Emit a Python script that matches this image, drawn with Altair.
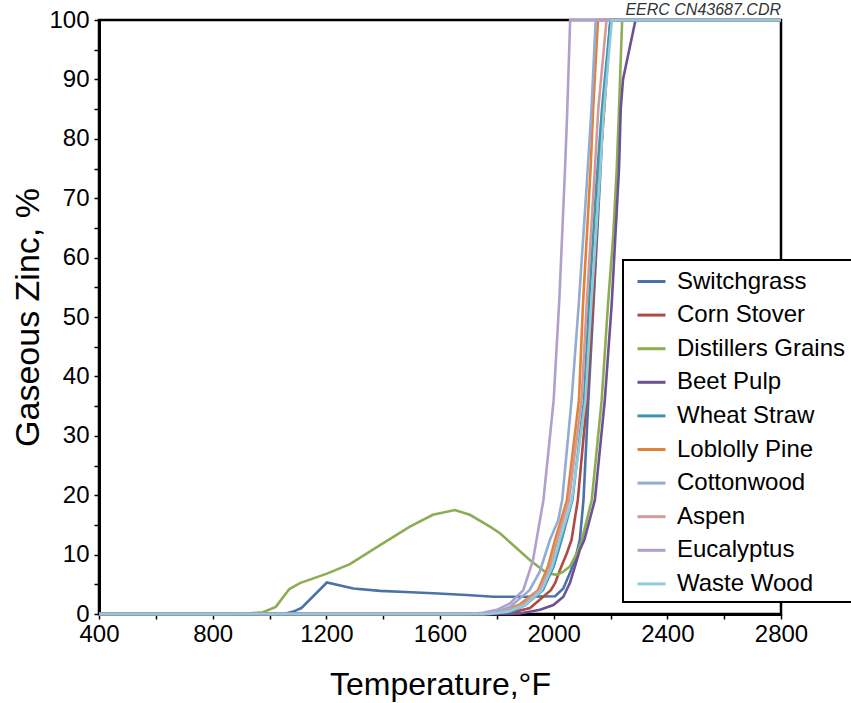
import altair as alt
import pandas as pd

FONT = "Liberation Sans"

SERIES = ["Switchgrass", "Corn Stover", "Distillers Grains", "Beet Pulp", "Wheat Straw",
          "Loblolly Pine", "Cottonwood", "Aspen", "Eucalyptus", "Waste Wood"]
COLORS = ["#4A72A8", "#AE4A45", "#8DAD55", "#6C5193", "#3D95AF",
          "#E08237", "#94ABD3", "#D49A98", "#B1A0CB", "#8FCBDC"]

SWITCHGRASS_T = [400, 1050, 1084, 1112, 1202, 1295, 1389, 1459, 1576, 1694, 1788, 1900, 2005, 2034, 2057, 2075, 2092, 2105, 2122, 2140, 2165, 2175, 2200, 2800]
SWITCHGRASS_Y = [0, 0, 0.4, 1.0, 5.3, 4.3, 3.9, 3.75, 3.5, 3.2, 2.9, 2.9, 3.0, 4.3, 6.9, 9.1, 12.5, 19.2, 36, 52, 75, 85, 100, 100]

CORN_T = [400, 1800, 1850, 1917, 1990, 2005, 2022, 2046, 2063, 2085, 2117, 2138, 2162, 2178, 2200, 2800]
CORN_Y = [0, 0, 0.2, 1.0, 4.0, 5.2, 7.4, 10.2, 12.5, 19.2, 36, 52, 75, 85, 100, 100]

DISTILLERS_T = [400, 850, 932, 977, 1022, 1070, 1107, 1202, 1283, 1389, 1494, 1575, 1652, 1705, 1776, 1811, 1916, 1975, 2010, 2033, 2057, 2081, 2098, 2134, 2169, 2191, 2210, 2222, 2230, 2241, 2800]
DISTILLERS_Y = [0, 0, 0.1, 0.3, 1.2, 4.2, 5.2, 6.8, 8.4, 11.6, 14.7, 16.7, 17.5, 16.7, 14.7, 13.6, 9.1, 6.9, 6.6, 7.1, 8.0, 10.2, 12.2, 19.2, 36, 52, 64, 75, 85, 100, 100]

BEET_T = [400, 1850, 1881, 1952, 1999, 2034, 2057, 2075, 2092, 2108, 2145, 2180, 2204, 2230, 2236, 2244, 2288, 2800]
BEET_Y = [0, 0, 0.1, 0.7, 1.5, 2.9, 5.2, 8.0, 10.8, 12.5, 19.2, 36, 52, 75, 85, 90, 100, 100]

WHEAT_T = [400, 1780, 1850, 1900, 1962, 2000, 2028, 2066, 2107, 2124, 2150, 2170, 2200, 2800]
WHEAT_Y = [0, 0, 0.4, 1.5, 4.0, 8.0, 12.5, 19.2, 36, 52, 72, 85, 100, 100]

LOBLOLLY_T = [400, 1760, 1820, 1880, 1945, 1980, 2005, 2047, 2089, 2103, 2130, 2139, 2156, 2800]
LOBLOLLY_Y = [0, 0, 0.5, 1.6, 4.0, 8.0, 12.5, 19.2, 36, 52, 75, 85, 100, 100]

COTTONWOOD_T = [400, 1750, 1800, 1846, 1915, 1950, 1987, 2016, 2030, 2063, 2088, 2116, 2133, 2148, 2800]
COTTONWOOD_Y = [0, 0, 0.4, 1.2, 4.0, 7.0, 12.5, 15.8, 19.2, 36, 52, 72, 85, 100, 100]

ASPEN_T = [400, 1760, 1830, 1890, 1950, 1985, 2013, 2054, 2098, 2116, 2145, 2157, 2186, 2800]
ASPEN_Y = [0, 0, 0.5, 1.6, 4.0, 7.5, 12.5, 19.2, 36, 52, 75, 85, 100, 100]

EUCALYPTUS_T = [400, 1700, 1750, 1800, 1846, 1893, 1927, 1964, 2000, 2020, 2040, 2048, 2058, 2800]
EUCALYPTUS_Y = [0, 0, 0.2, 0.7, 1.8, 4.0, 9.0, 19.2, 36, 53, 75, 85, 100, 100]

WASTE_T = [400, 1770, 1840, 1900, 1958, 1995, 2022, 2064, 2112, 2132, 2160, 2177, 2205, 2800]
WASTE_Y = [0, 0, 0.4, 1.5, 4.0, 8.0, 12.5, 19.2, 36, 52, 72, 85, 100, 100]

PAIRS = [(SWITCHGRASS_T, SWITCHGRASS_Y), (CORN_T, CORN_Y), (DISTILLERS_T, DISTILLERS_Y),
         (BEET_T, BEET_Y), (WHEAT_T, WHEAT_Y), (LOBLOLLY_T, LOBLOLLY_Y),
         (COTTONWOOD_T, COTTONWOOD_Y), (ASPEN_T, ASPEN_Y), (EUCALYPTUS_T, EUCALYPTUS_Y),
         (WASTE_T, WASTE_Y)]

X_TICKS = list(range(400, 2801, 200))
Y_TICKS = list(range(0, 101, 5))

rows = []
for name, (ts, ys) in zip(SERIES, PAIRS):
    for t, y in zip(ts, ys):
        rows.append({"series": name, "temp": t, "zinc": y})
df = pd.DataFrame(rows)

chart = alt.Chart(df).mark_line(strokeWidth=2.6, clip=False).encode(
    x=alt.X("temp:Q",
            scale=alt.Scale(domain=[400, 2800], nice=False, zero=False),
            axis=alt.Axis(title="Temperature,°F", values=X_TICKS, format="d",
                          labelExpr="datum.value % 400 == 0 ? datum.label : ''",
                          labelFlush=False, labelOverlap=False,
                          labelFontSize=24, titleFontSize=32, titlePadding=23,
                          labelPadding=3, tickSize=5)),
    y=alt.Y("zinc:Q",
            scale=alt.Scale(domain=[0, 100], nice=False),
            axis=alt.Axis(title="Gaseous Zinc, %", values=Y_TICKS,
                          labelExpr="datum.value % 10 == 0 ? datum.label : ''",
                          labelFlush=False, labelOverlap=False,
                          labelFontSize=24, titleFontSize=34, titlePadding=3,
                          labelPadding=5, tickSize=5)),
    color=alt.Color("series:N",
                    scale=alt.Scale(domain=SERIES, range=COLORS),
                    sort=SERIES,
                    legend=alt.Legend(title=None, orient="none", legendX=524, legendY=240,
                                      strokeColor="black", fillColor="white",
                                      padding=6, labelFontSize=24, labelFont=FONT,
                                      labelColor="black",
                                      symbolType="stroke", symbolStrokeWidth=3,
                                      symbolSize=784, symbolOffset=7,
                                      labelOffset=10, rowPadding=5.6,
                                      labelLimit=400)),
).properties(
    width=682, height=594,
    padding={"left": 99, "top": 20, "right": 70, "bottom": 89},
    autosize=alt.AutoSizeParams(type="none"),
    title=alt.TitleParams("EERC CN43687.CDR", anchor="end", frame="group",
                          fontStyle="italic", fontSize=16, fontWeight="normal",
                          font=FONT, color="#333333", offset=3, dy=13),
).configure_view(
    stroke="black", strokeWidth=2.5
).configure_axis(
    grid=False, domainColor="black", domainWidth=3, tickColor="black", tickWidth=1.5,
    labelColor="black", titleColor="black", labelFont=FONT, titleFont=FONT,
    titleFontWeight="normal"
).configure_legend(
    strokeWidth=2
)

chart.save("out.html", embed_options={"renderer": "svg", "actions": False})
